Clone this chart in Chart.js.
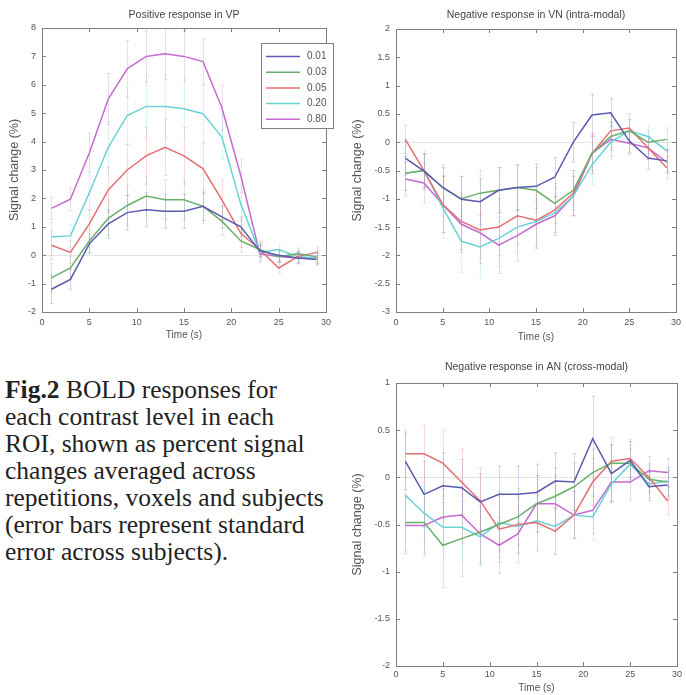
<!DOCTYPE html>
<html>
<head>
<meta charset="utf-8">
<script src="https://cdn.jsdelivr.net/npm/chart.js@4.4.1/dist/chart.umd.min.js"></script>
<style>
html,body{margin:0;padding:0;background:#fff;}
body{width:686px;height:695px;position:relative;overflow:hidden;}
canvas{position:absolute;}
#cap{position:absolute;left:5px;top:376px;font-family:"Liberation Serif","Times New Roman",serif;font-size:25.5px;line-height:27px;color:#222;white-space:nowrap;}
</style>
</head>
<body>
<canvas id="vp" width="343" height="345" style="left:0;top:0"></canvas>
<canvas id="vn" width="343" height="345" style="left:343px;top:0"></canvas>
<canvas id="an" width="343" height="350" style="left:343px;top:345px"></canvas>
<div id="cap"><b>Fig.2</b> BOLD responses for<br>each contrast level in each<br>ROI, shown as percent signal<br>changes averaged across<br>repetitions, voxels and subjects<br>(error bars represent standard<br>error across subjects).</div>
<script>
// time points (s)
const TIME = [1, 3, 5, 7, 9, 11, 13, 15, 17, 19, 21, 23, 25, 27, 29];
const CONTRASTS = ['0.01', '0.03', '0.05', '0.20', '0.80'];
const X_TICKS = [0, 5, 10, 15, 20, 25, 30];
const VP_TICKS = [-2, -1, 0, 1, 2, 3, 4, 5, 6, 7, 8];
const VN_TICKS = [-3, -2.5, -2, -1.5, -1, -0.5, 0, 0.5, 1, 1.5, 2];
const AN_TICKS = [-2, -1.5, -1, -0.5, 0, 0.5, 1];

// Positive response in VP
const VP_001 = [-1.2, -0.85, 0.4, 1.1, 1.5, 1.6, 1.55, 1.55, 1.72, 1.35, 1.0, 0.15, 0.0, -0.1, -0.15];
const VP_003 = [-0.8, -0.45, 0.5, 1.3, 1.75, 2.08, 1.95, 1.95, 1.72, 1.2, 0.5, 0.2, -0.05, 0.05, -0.05];
const VP_005 = [0.35, 0.1, 1.1, 2.3, 3.0, 3.5, 3.8, 3.5, 3.05, 1.95, 0.77, 0.2, -0.45, -0.05, 0.1];
const VP_020 = [0.65, 0.68, 2.2, 3.8, 4.92, 5.24, 5.24, 5.16, 4.98, 4.16, 1.8, 0.1, 0.2, -0.05, -0.1];
const VP_080 = [1.65, 1.97, 3.6, 5.5, 6.56, 7.0, 7.09, 7.0, 6.82, 5.2, 2.8, 0.05, -0.05, -0.1, -0.1];
const VP_ERR_001 = [0.5, 0.35, 0.35, 0.5, 0.6, 0.6, 0.6, 0.6, 0.5, 0.4, 0.35, 0.2, 0.2, 0.2, 0.2];
const VP_ERR_003 = [0.5, 0.4, 0.4, 0.6, 0.7, 0.7, 0.7, 0.7, 0.6, 0.5, 0.4, 0.25, 0.2, 0.2, 0.2];
const VP_ERR_005 = [0.5, 0.4, 0.5, 0.8, 0.9, 1.0, 1.0, 1.0, 0.9, 0.7, 0.5, 0.3, 0.2, 0.2, 0.2];
const VP_ERR_020 = [0.5, 0.4, 0.6, 0.9, 1.0, 1.1, 1.1, 1.1, 1.0, 0.8, 0.6, 0.3, 0.2, 0.2, 0.2];
const VP_ERR_080 = [0.4, 0.4, 0.7, 0.9, 1.0, 0.9, 0.9, 0.9, 0.8, 0.8, 0.6, 0.3, 0.2, 0.2, 0.2];

// Negative response in VN (intra-modal)
const VN_001 = [-0.28, -0.51, -0.8, -1.01, -1.05, -0.85, -0.8, -0.78, -0.62, 0.0, 0.48, 0.52, 0.02, -0.28, -0.33];
const VN_003 = [-0.55, -0.5, -0.8, -1.0, -0.9, -0.85, -0.8, -0.85, -1.08, -0.85, -0.2, 0.1, 0.2, 0.0, 0.05];
const VN_005 = [0.05, -0.5, -1.1, -1.4, -1.55, -1.5, -1.3, -1.38, -1.2, -0.9, -0.2, 0.2, 0.25, -0.1, -0.45];
const VN_020 = [-0.55, -0.5, -1.15, -1.75, -1.85, -1.7, -1.5, -1.4, -1.25, -0.95, -0.4, 0.0, 0.2, 0.1, -0.15];
const VN_080 = [-0.65, -0.72, -1.1, -1.45, -1.6, -1.82, -1.65, -1.45, -1.3, -0.95, -0.2, 0.05, -0.02, -0.1, -0.35];
const VN_ERR_001 = [0.3, 0.3, 0.35, 0.4, 0.4, 0.4, 0.4, 0.4, 0.35, 0.35, 0.37, 0.25, 0.2, 0.2, 0.2];
const VN_ERR_003 = [0.3, 0.3, 0.4, 0.4, 0.4, 0.4, 0.4, 0.4, 0.35, 0.35, 0.3, 0.25, 0.2, 0.2, 0.2];
const VN_ERR_005 = [0.25, 0.3, 0.5, 0.5, 0.5, 0.5, 0.5, 0.5, 0.4, 0.4, 0.35, 0.3, 0.25, 0.2, 0.2];
const VN_ERR_020 = [0.3, 0.35, 0.55, 0.55, 0.55, 0.5, 0.45, 0.4, 0.35, 0.35, 0.35, 0.3, 0.2, 0.2, 0.2];
const VN_ERR_080 = [0.3, 0.35, 0.5, 0.5, 0.55, 0.5, 0.45, 0.4, 0.35, 0.35, 0.35, 0.3, 0.2, 0.2, 0.2];

// Negative response in AN (cross-modal)
const AN_001 = [0.17, -0.18, -0.09, -0.11, -0.26, -0.18, -0.18, -0.16, -0.04, -0.05, 0.41, 0.04, 0.18, -0.1, -0.08];
const AN_003 = [-0.48, -0.48, -0.72, -0.65, -0.58, -0.5, -0.42, -0.28, -0.2, -0.1, 0.05, 0.15, 0.15, -0.02, -0.05];
const AN_005 = [0.25, 0.25, 0.15, -0.05, -0.25, -0.55, -0.5, -0.48, -0.57, -0.4, -0.05, 0.17, 0.2, 0.0, -0.25];
const AN_020 = [-0.19, -0.38, -0.53, -0.53, -0.63, -0.48, -0.52, -0.46, -0.52, -0.4, -0.42, -0.07, 0.14, -0.07, -0.04];
const AN_080 = [-0.51, -0.51, -0.42, -0.4, -0.6, -0.72, -0.6, -0.28, -0.28, -0.4, -0.35, -0.05, -0.05, 0.07, 0.05];
const AN_ERR_001 = [0.3, 0.35, 0.35, 0.3, 0.3, 0.3, 0.3, 0.3, 0.3, 0.3, 0.45, 0.3, 0.2, 0.15, 0.15];
const AN_ERR_003 = [0.3, 0.35, 0.45, 0.4, 0.35, 0.35, 0.3, 0.3, 0.3, 0.25, 0.25, 0.2, 0.15, 0.15, 0.15];
const AN_ERR_005 = [0.25, 0.3, 0.35, 0.35, 0.35, 0.35, 0.3, 0.3, 0.25, 0.25, 0.25, 0.25, 0.2, 0.15, 0.15];
const AN_ERR_020 = [0.3, 0.3, 0.3, 0.35, 0.3, 0.3, 0.3, 0.3, 0.3, 0.25, 0.25, 0.2, 0.2, 0.15, 0.15];
const AN_ERR_080 = [0.3, 0.3, 0.3, 0.3, 0.3, 0.3, 0.3, 0.3, 0.3, 0.25, 0.25, 0.2, 0.2, 0.15, 0.15];

const LINE_COLORS = ['#5a5ab0', '#6cae6c', '#e66e72', '#6ad2d4', '#c46ad0'];
const FONT = '"Liberation Sans", Arial, sans-serif';

// matlab-ish axes: box, inward ticks on all sides, zero line, error bars
const matAxes = {
  id: 'matAxes',
  beforeDatasetsDraw(chart) {
    const {ctx, chartArea: a, scales: {x, y}} = chart;
    ctx.save();
    const y0 = Math.round(y.getPixelForValue(0)) + 0.5;
    ctx.strokeStyle = '#e4e4e4'; ctx.lineWidth = 1;
    ctx.beginPath(); ctx.moveTo(a.left, y0); ctx.lineTo(a.right, y0); ctx.stroke();
    chart.data.datasets.forEach(ds => {
      ctx.strokeStyle = ds.borderColor; ctx.globalAlpha = 0.25;
      ds.data.forEach((p, j) => {
        const e = ds.errors[j];
        const px = Math.round(x.getPixelForValue(p.x)) + 0.5;
        const y1 = y.getPixelForValue(p.y - e), y2 = y.getPixelForValue(p.y + e);
        ctx.beginPath();
        ctx.moveTo(px, y1); ctx.lineTo(px, y2);
        ctx.moveTo(px - 2, y1); ctx.lineTo(px + 2, y1);
        ctx.moveTo(px - 2, y2); ctx.lineTo(px + 2, y2);
        ctx.stroke();
      });
    });
    ctx.restore();
  },
  afterDraw(chart) {
    const {ctx, chartArea: a, scales: {x, y}} = chart;
    ctx.save();
    ctx.strokeStyle = '#808080'; ctx.lineWidth = 1;
    ctx.strokeRect(Math.round(a.left) + 0.5, Math.round(a.top) + 0.5, Math.round(a.right - a.left), Math.round(a.bottom - a.top));
    ctx.beginPath();
    x.ticks.forEach(t => {
      const px = Math.round(x.getPixelForValue(t.value)) + 0.5;
      ctx.moveTo(px, a.bottom); ctx.lineTo(px, a.bottom - 4);
      ctx.moveTo(px, a.top); ctx.lineTo(px, a.top + 4);
    });
    y.ticks.forEach(t => {
      const py = Math.round(y.getPixelForValue(t.value)) + 0.5;
      ctx.moveTo(a.left, py); ctx.lineTo(a.left + 4, py);
      ctx.moveTo(a.right, py); ctx.lineTo(a.right - 4, py);
    });
    ctx.stroke();
    ctx.restore();
  }
};

// boxed legend inside the first panel
const boxLegend = {
  id: 'boxLegend',
  afterDraw(chart, args, opts) {
    if (!opts.show) return;
    const {ctx} = chart;
    const bx = opts.x, by = opts.y, bw = opts.w, bh = opts.h;
    ctx.save();
    ctx.fillStyle = '#fff'; ctx.fillRect(bx, by, bw, bh);
    ctx.strokeStyle = '#808080'; ctx.lineWidth = 1;
    ctx.strokeRect(bx + 0.5, by + 0.5, bw, bh);
    ctx.font = '10px ' + FONT; ctx.textBaseline = 'middle'; ctx.fillStyle = '#555';
    chart.data.datasets.forEach((ds, i) => {
      const ry = by + 13.5 + i * 15.7;
      ctx.strokeStyle = ds.borderColor; ctx.lineWidth = 1.5;
      ctx.beginPath(); ctx.moveTo(bx + 5, ry); ctx.lineTo(bx + 39, ry); ctx.stroke();
      ctx.fillText(ds.label, bx + 46, ry);
    });
    ctx.restore();
  }
};

function makeChart(id, title, series, errs, yTicks, lay) {
  const datasets = series.map((vals, i) => ({
    label: CONTRASTS[i],
    data: TIME.map((t, j) => ({x: t, y: vals[j]})),
    errors: errs[i],
    borderColor: LINE_COLORS[i],
    borderWidth: 1.5,
    pointRadius: 0,
    tension: 0,
    fill: false
  }));
  return new Chart(document.getElementById(id), {
    type: 'line',
    data: {datasets},
    options: {
      responsive: false,
      animation: false,
      layout: {padding: {left: 0, top: 0, right: lay.right, bottom: 0}},
      plugins: {
        legend: {display: false},
        tooltip: {enabled: false},
        title: {display: true, text: title, fullSize: false, color: '#444',
          font: {family: FONT, size: 10.5, weight: 'normal'},
          padding: {top: lay.tTop, bottom: lay.tBot}},
        boxLegend: lay.legend || {show: false}
      },
      scales: {
        x: {
          type: 'linear', min: X_TICKS[0], max: X_TICKS[X_TICKS.length - 1],
          grid: {display: false, drawTicks: false}, border: {display: false},
          afterBuildTicks: s => { s.ticks = X_TICKS.map(v => ({value: v})); },
          ticks: {color: '#555', font: {family: FONT, size: 9}, padding: lay.xPad, maxRotation: 0, callback: v => String(v)},
          title: {display: true, text: 'Time (s)', color: '#555', font: {family: FONT, size: 10}, padding: {top: 0, bottom: lay.xtBot}},
          afterFit: s => { s.height = lay.xH; }
        },
        y: {
          type: 'linear', min: yTicks[0], max: yTicks[yTicks.length - 1],
          grid: {display: false, drawTicks: false}, border: {display: false},
          afterBuildTicks: s => { s.ticks = yTicks.map(v => ({value: v})); },
          ticks: {color: '#555', font: {family: FONT, size: 9}, padding: 6, callback: v => String(v)},
          title: {display: true, text: 'Signal change (%)', color: '#555', font: {family: FONT, size: 12.5}, padding: {top: 7.5, bottom: 0}},
          afterFit: s => { s.width = lay.yW; }
        }
      }
    },
    plugins: [matAxes, boxLegend]
  });
}

makeChart('vp', 'Positive response in VP',
  [VP_001, VP_003, VP_005, VP_020, VP_080],
  [VP_ERR_001, VP_ERR_003, VP_ERR_005, VP_ERR_020, VP_ERR_080],
  VP_TICKS,
  {right: 17, tTop: 8.7, tBot: 6.7, xH: 33, yW: 42, xPad: 5, xtBot: 4,
   legend: {show: true, x: 261, y: 43, w: 72, h: 85}});

makeChart('vn', 'Negative response in VN (intra-modal)',
  [VN_001, VN_003, VN_005, VN_020, VN_080],
  [VN_ERR_001, VN_ERR_003, VN_ERR_005, VN_ERR_020, VN_ERR_080],
  VN_TICKS,
  {right: 9, tTop: 8.7, tBot: 7.7, xH: 33, yW: 53, xPad: 5, xtBot: 2});

makeChart('an', 'Negative response in AN (cross-modal)',
  [AN_001, AN_003, AN_005, AN_020, AN_080],
  [AN_ERR_001, AN_ERR_003, AN_ERR_005, AN_ERR_020, AN_ERR_080],
  AN_TICKS,
  {right: 9, tTop: 15.7, tBot: 9.7, xH: 29, yW: 53, xPad: 3, xtBot: 1});
</script>
</body>
</html>
